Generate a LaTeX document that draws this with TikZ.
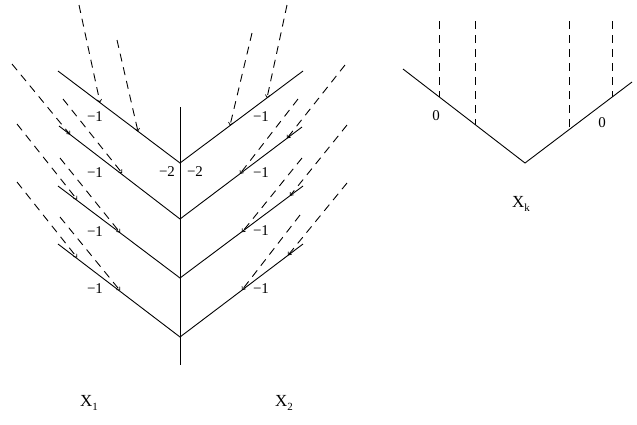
\documentclass[tikz,border=0pt]{standalone}
\usepackage{fontspec}
\setmainfont{Liberation Serif}
\usetikzlibrary{arrows.meta}
\begin{document}
\begin{tikzpicture}[x=1bp,y=-1bp,
  solidline/.style={line width=0.9bp},
  dashline/.style={line width=0.9bp,dash pattern=on 8bp off 6bp,-{Straight Barb[length=2.5bp,width=4.5bp,line width=0.7bp]}},
  vdash/.style={line width=0.9bp,dash pattern=on 8bp off 6bp},
  lbl/.style={inner sep=0pt,font=\fontsize{15}{15}\selectfont},
  xlbl/.style={inner sep=0pt,anchor=base west,font=\fontsize{17}{17}\selectfont}]
\useasboundingbox (0,0) rectangle (637,424);
% stem and vertices
\coordinate (top) at (180,107);
\coordinate (bot) at (180,365);
\coordinate (v1) at (180,163);
\coordinate (v2) at (180,219);
\coordinate (v3) at (180,278);
\coordinate (v4) at (180,337);
% left ends
\coordinate (l1) at (58,71);
\coordinate (l2) at (59,126);
\coordinate (l3) at (58,186);
\coordinate (l4) at (58,244);
% right ends
\coordinate (r1) at (303,71);
\coordinate (r2) at (302,127);
\coordinate (r3) at (303,186);
\coordinate (r4) at (303,244);
\draw[solidline] (top) -- (bot);
\foreach \i in {1,2,3,4}{
  \draw[solidline] (l\i) -- (v\i) -- (r\i);
}
% left dashed
\coordinate (la0) at (79,5);   \coordinate (la1) at (100,102.5);
\coordinate (lb0) at (117,40); \coordinate (lb1) at (138,131.5);
\coordinate (lc0) at (12,64);  \coordinate (lc1) at (70,134.5);
\coordinate (ld0) at (63,99);  \coordinate (ld1) at (122,173);
\coordinate (le0) at (17,124); \coordinate (le1) at (77,199.5);
\coordinate (lf0) at (60,158); \coordinate (lf1) at (120,232.5);
\coordinate (lg0) at (17,182); \coordinate (lg1) at (77,257.5);
\coordinate (lh0) at (60,217); \coordinate (lh1) at (120,290.5);
% right dashed
\coordinate (ra0) at (287,5);   \coordinate (ra1) at (267,98);
\coordinate (rb0) at (252,33);  \coordinate (rb1) at (230,125.5);
\coordinate (rc0) at (345,65);  \coordinate (rc1) at (287,138.3);
\coordinate (rd0) at (298,99);  \coordinate (rd1) at (240,173.8);
\coordinate (re0) at (347,125); \coordinate (re1) at (290,195.8);
\coordinate (rf0) at (302,158); \coordinate (rf1) at (242,232.2);
\coordinate (rg0) at (347,183); \coordinate (rg1) at (288,255.3);
\coordinate (rh0) at (300,215); \coordinate (rh1) at (242,290);
\foreach \n in {la,lb,lc,ld,le,lf,lg,lh,ra,rb,rc,rd,re,rf,rg,rh}{
  \draw[dashline] (\n0) -- (\n1);
}
% labels left diagram
\node[lbl] (m1) at (95,117) {−1};
\node[lbl] (m2) at (95,173) {−1};
\node[lbl] (m3) at (95,232) {−1};
\node[lbl] (m4) at (95,289) {−1};
\node[lbl] (n1) at (261,117) {−1};
\node[lbl] (n2) at (261,173) {−1};
\node[lbl] (n3) at (261,231) {−1};
\node[lbl] (n4) at (261,289) {−1};
\node[lbl] (t1) at (167,172) {−2};
\node[lbl] (t2) at (195,172) {−2};
\node[xlbl] (x1) at (80,406) {X\raisebox{-4bp}{\fontsize{11}{11}\selectfont 1}};
\node[xlbl] (x2) at (275,406) {X\raisebox{-4bp}{\fontsize{11}{11}\selectfont 2}};
% right diagram
\coordinate (ka) at (403,69);
\coordinate (kv) at (525,163);
\coordinate (kb) at (632,82);
\draw[solidline] (ka) -- (kv) -- (kb);
\coordinate (d1a) at (439,21); \coordinate (d1b) at (439,96.7);
\coordinate (d2a) at (475,21); \coordinate (d2b) at (475,124.5);
\coordinate (d3a) at (569,21); \coordinate (d3b) at (569,129.7);
\coordinate (d4a) at (612,21); \coordinate (d4b) at (612,97);
\foreach \k in {1,2,3,4}{
  \draw[vdash] (d\k a) -- (d\k b);
}
\node[lbl] (z1) at (436,116) {0};
\node[lbl] (z2) at (602,123) {0};
\node[xlbl] (xk) at (512,207) {X\raisebox{-4bp}{\fontsize{11}{11}\selectfont k}};
\end{tikzpicture}
\end{document}
